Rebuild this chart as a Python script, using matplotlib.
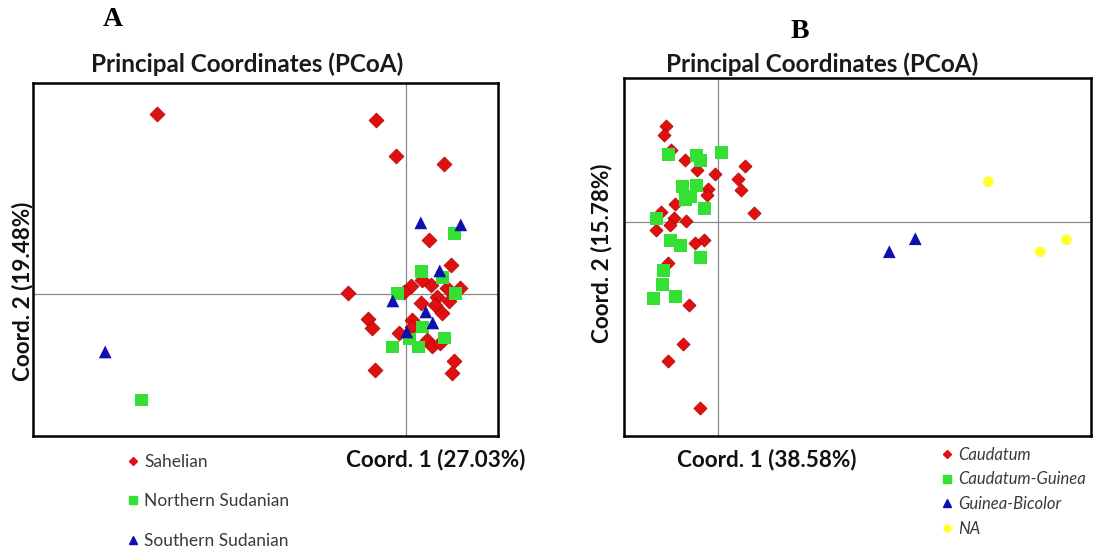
import matplotlib
matplotlib.use('Agg')
import matplotlib.pyplot as plt
from matplotlib.lines import Line2D

# ---- panel A: agro-ecological zones ----
sahel_x = [-2.49, -0.30, -0.10, 0.38, 0.23, 0.45, 0.05, 0.25, 0.41, 0.54, -0.58, -0.02,
           0.15, 0.31, 0.29, 0.43, 0.36, -0.38, -0.34, 0.06, 0.06, -0.07, 0.21, 0.26,
           0.34, 0.48, 0.46, -0.31, 0.16]
sahel_y = [1.80, 1.74, 1.38, 1.30, 0.54, 0.29, 0.08, 0.09, 0.06, 0.06, 0.01, 0.02,
           -0.09, -0.03, -0.11, -0.07, -0.19, -0.25, -0.34, -0.26, -0.33, -0.39, -0.46, -0.52,
           -0.49, -0.67, -0.79, -0.76, 0.14]
north_x = [-2.65, 0.49, 0.16, 0.37, 0.50, -0.08, 0.17, 0.39, -0.13, 0.04, 0.13]
north_y = [-1.06, 0.60, 0.22, 0.16, 0.00, 0.00, -0.33, -0.44, -0.53, -0.45, -0.53]
south_x = [-3.01, 0.15, 0.55, 0.34, -0.13, 0.20, 0.27, 0.01]
south_y = [-0.58, 0.71, 0.69, 0.23, -0.07, -0.18, -0.29, -0.38]

# ---- panel B: races ----
caud_x = [-0.52, -0.54, -0.47, -0.33, -0.21, -0.03, 0.27, 0.20, 0.23, -0.10, -0.11, -0.43,
          0.36, -0.57, -0.44, -0.48, -0.32, -0.62, -0.23, -0.14, -0.50, -0.29, -0.35, -0.50,
          -0.18]
caud_y = [0.96, 0.87, 0.72, 0.62, 0.52, 0.48, 0.56, 0.43, 0.32, 0.33, 0.27, 0.18,
          0.09, 0.10, 0.04, -0.03, 0.01, -0.08, -0.21, -0.18, -0.41, -0.83, -1.22, -1.39,
          -1.86]
cg_x = [-0.50, -0.22, -0.18, 0.03, -0.36, -0.22, -0.28, -0.33, -0.14, -0.62, -0.48, -0.38,
        -0.18, -0.55, -0.56, -0.65, -0.43]
cg_y = [0.67, 0.66, 0.61, 0.69, 0.35, 0.36, 0.25, 0.22, 0.13, 0.03, -0.19, -0.24,
        -0.36, -0.49, -0.63, -0.77, -0.75]
gb_x = [1.71, 1.97]
gb_y = [-0.30, -0.17]
na_x = [2.70, 3.22, 3.48]
na_y = [0.40, -0.30, -0.18]

RED = '#e01010'
GREEN = '#33e033'
BLUE = '#1010b0'
YELLOW = '#ffff30'

W, H = 1094, 552
plt.rcParams['font.family'] = ['Lato', 'DejaVu Sans']


def fx(px):
    return px / W


def fy(py):
    return 1 - py / H


fig = plt.figure(figsize=(W / 100, H / 100), dpi=100)

axA = fig.add_axes([fx(33.3), fy(436), (497.7 - 33.3) / W, (436 - 82.7) / H])
axB = fig.add_axes([fx(624), fy(436), (1090.7 - 624) / W, (436 - 77.7) / H])

for ax in (axA, axB):
    ax.set_xticks([])
    ax.set_yticks([])
    for sp in ax.spines.values():
        sp.set_linewidth(1.8)
        sp.set_color('black')
    ax.axhline(0, color='#888888', lw=0.9, zorder=1)
    ax.axvline(0, color='#888888', lw=0.9, zorder=1)

axA.scatter(sahel_x, sahel_y, marker='D', s=58, c=RED, edgecolors='#b00000', linewidths=0.5, zorder=3)
axA.scatter(north_x, north_y, marker='s', s=85, c=GREEN, edgecolors='none', zorder=4)
axA.scatter(south_x, south_y, marker='^', s=85, c=BLUE, edgecolors='none', zorder=5)
axA.set_xlim(-3.73, 0.92)
axA.set_ylim(-1.42, 2.11)

axB.scatter(caud_x, caud_y, marker='D', s=45, c=RED, edgecolors='#b00000', linewidths=0.5, zorder=3)
axB.scatter(cg_x, cg_y, marker='s', s=80, c=GREEN, edgecolors='none', zorder=4)
axB.scatter(gb_x, gb_y, marker='^', s=85, c=BLUE, edgecolors='none', zorder=5)
axB.scatter(na_x, na_y, marker='o', s=60, c=YELLOW, edgecolors='none', zorder=5)
axB.set_xlim(-0.943, 3.724)
axB.set_ylim(-2.143, 1.44)

# titles, axis labels, panel letters
title_kw = dict(fontsize=17.5, fontweight='bold', ha='center', va='center', color='#1a1a1a')
fig.text(fx(247), fy(64.4), 'Principal Coordinates (PCoA)', **title_kw)
fig.text(fx(822), fy(64.4), 'Principal Coordinates (PCoA)', **title_kw)
lab_kw = dict(fontsize=16.2, fontweight='bold', ha='center', va='center', color='#111111')
fig.text(fx(436), fy(459.5), 'Coord. 1 (27.03%)', **lab_kw)
fig.text(fx(22.4), fy(291), 'Coord. 2 (19.48%)', rotation=90, **lab_kw)
fig.text(fx(766.6), fy(459.5), 'Coord. 1 (38.58%)', **lab_kw)
fig.text(fx(601.8), fy(253.5), 'Coord. 2 (15.78%)', rotation=90, **lab_kw)
fig.text(fx(113), fy(20), 'A', fontsize=20, fontweight='bold', family='Liberation Serif',
         ha='center', va='center')
fig.text(fx(800), fy(31), 'B', fontsize=20, fontweight='bold', family='Liberation Serif',
         ha='center', va='center')

# legends
hA = [Line2D([], [], ls='none', marker='D', ms=4.5, color=RED),
      Line2D([], [], ls='none', marker='s', ms=6, color=GREEN),
      Line2D([], [], ls='none', marker='^', ms=6, color=BLUE)]
legA = fig.legend(hA, ['Sahelian', 'Northern Sudanian', 'Southern Sudanian'],
                  loc='upper left', bbox_to_anchor=(fx(119), fy(445)), frameon=False,
                  fontsize=12.5, labelspacing=1.36, handlelength=0.6, handletextpad=0.35,
                  borderpad=0, labelcolor='#3a3a3a')

hB = [Line2D([], [], ls='none', marker='D', ms=4, color=RED),
      Line2D([], [], ls='none', marker='s', ms=5.5, color=GREEN),
      Line2D([], [], ls='none', marker='^', ms=5.5, color=BLUE),
      Line2D([], [], ls='none', marker='o', ms=5, color=YELLOW)]
legB = fig.legend(hB, ['Caudatum', 'Caudatum-Guinea', 'Guinea-Bicolor', 'NA'],
                  loc='upper left', bbox_to_anchor=(fx(934), fy(438.5)), frameon=False,
                  labelspacing=0.52, handlelength=0.6, handletextpad=0.35,
                  borderpad=0, labelcolor='#3a3a3a', prop={'style': 'italic', 'size': 12})

fig.savefig('out.png', dpi=100)
